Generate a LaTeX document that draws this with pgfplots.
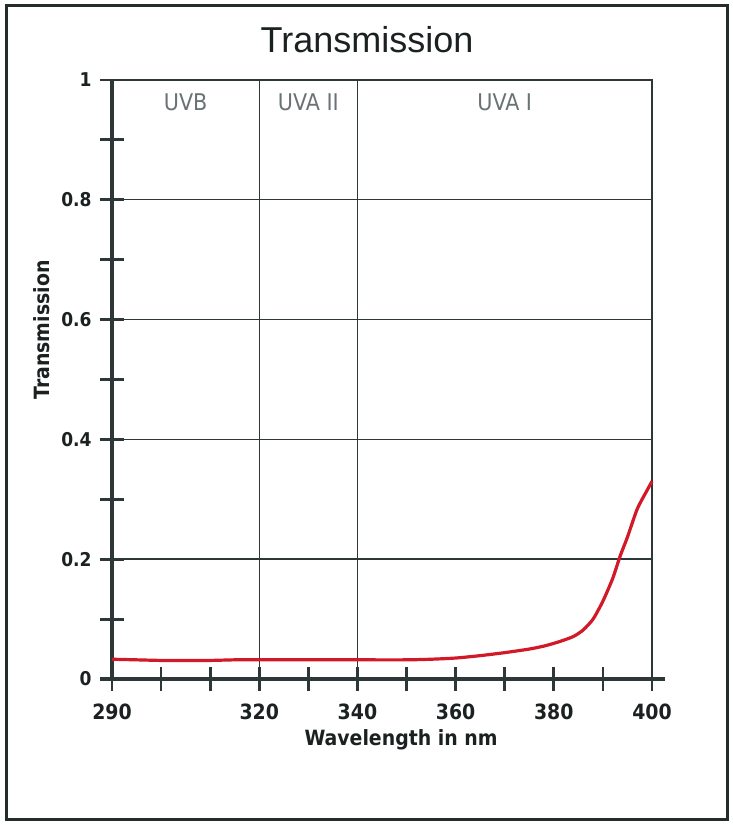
\documentclass[border=0pt]{standalone}
\usepackage{pgfplots}
\pgfplotsset{compat=1.18}
\usepackage{fontspec}
\setmainfont{Liberation Sans}
\newfontfamily\cond{DejaVu Sans Condensed}
\definecolor{ln}{RGB}{45,55,55}
\definecolor{zone}{RGB}{105,115,115}
\definecolor{curve}{RGB}{210,25,40}
\pgfplotstableread{
x y
290 0.033
295 0.032
300 0.031
305 0.031
310 0.031
315 0.032
320 0.032
330 0.032
340 0.032
350 0.032
355 0.033
360 0.035
365 0.039
370 0.044
375 0.050
378 0.055
381 0.062
384 0.071
386 0.082
388 0.100
390 0.130
392 0.168
393.5 0.205
395 0.237
397 0.284
399 0.315
400 0.330
}\trans
\begin{document}
\begin{tikzpicture}
\useasboundingbox (-56pt,-73pt) rectangle (310.5pt,339.5pt);
\draw[line width=1.5pt, color=ln!80!black] (-52.5pt,-70pt) rectangle (307.5pt,336.5pt);
\begin{axis}[
  at={(0,0)}, anchor=south west,
  scale only axis, width=270pt, height=299.5pt,
  xmin=290, xmax=400, ymin=0, ymax=1,
  axis x line=bottom, axis y line=left,
  axis line style={-, line width=1.6pt, color=ln},
  x axis line style={shorten <=-6pt, shorten >=-6.5pt},
  xtick={290,320,340,360,380,400},
  minor xtick={300,310,330,350,370,390},
  ytick={0,0.2,0.4,0.6,0.8,1},
  minor ytick={0.1,0.3,0.5,0.7,0.9},
  tick align=center,
  major tick length=12pt, minor tick length=12pt,
  every tick/.style={line width=1.4pt, color=ln},
  ymajorgrids=true,
  major grid style={line width=0.7pt, color=ln},
  /pgf/number format/assume math mode=true,
  ticklabel style={color=ln!60!black, inner sep=0pt},
  xticklabel style={font=\cond\bfseries\fontsize{10.5}{12}\selectfont},
  yticklabel style={font=\cond\bfseries\fontsize{9.5}{11}\selectfont},
  xticklabel shift=6.5pt,
  yticklabel shift=4pt,
  clip=false,
]
\draw[line width=0.7pt, color=ln] (axis cs:320,0) -- (axis cs:320,1);
\draw[line width=0.7pt, color=ln] (axis cs:340,0) -- (axis cs:340,1);
\draw[line width=1pt, color=ln] (axis cs:290,1) -- (axis cs:400,1) -- (axis cs:400,0);
\node[font=\cond\fontsize{11.5}{12}\selectfont, color=zone] at (axis cs:305,0.962) {UVB};
\node[font=\cond\fontsize{11.5}{12}\selectfont, color=zone] at (axis cs:330,0.962) {UVA II};
\node[font=\cond\fontsize{11.5}{12}\selectfont, color=zone] at (axis cs:370,0.962) {UVA I};
\addplot[color=curve, line width=1.6pt, smooth, tension=0.4] table[x=x,y=y] {\trans};
\end{axis}
\node[anchor=base, font=\fontsize{18}{20}\selectfont, color=ln!60!black] at (127.5pt,313pt) {Transmission};
\node[font=\cond\bfseries\fontsize{10.5}{12}\selectfont, color=ln!60!black] at (144.5pt,-30.5pt) {Wavelength in nm};
\node[rotate=90, font=\cond\bfseries\fontsize{10.5}{12}\selectfont, color=ln!60!black] at (-35pt,174.5pt) {Transmission};
\end{tikzpicture}
\end{document}
